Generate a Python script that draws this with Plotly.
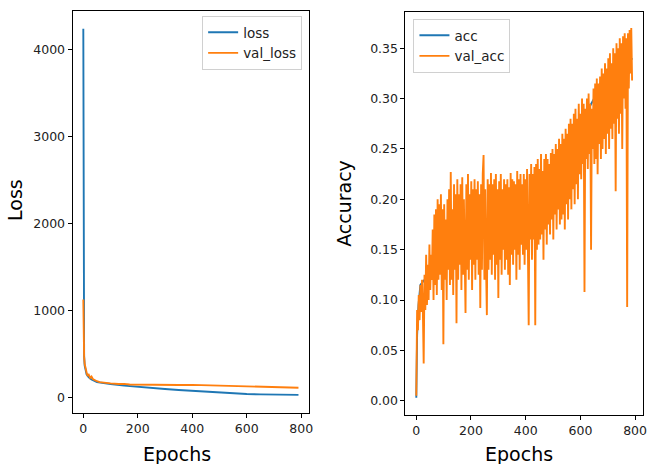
import plotly.graph_objects as go

# ---------------- data ----------------
loss_epochs = [0, 1, 2, 3, 5, 8, 12, 20, 30, 50, 80, 100, 150, 200, 250, 300, 350, 400, 450, 500, 550, 600, 650, 700, 750, 790]
loss = [4240, 1100, 640, 480, 370, 310, 270, 235, 210, 180, 165, 158, 140, 125, 112, 100, 90, 80, 70, 60, 50, 43, 39, 36, 34, 33]

val_loss_epochs = [0, 1, 2, 3, 5, 8, 12, 16, 20, 25, 30, 35, 40, 50, 60, 80, 100, 130, 150, 170, 200, 250, 300, 350, 400, 420, 440, 450, 500, 550, 600, 620, 650, 700, 750, 790]
val_loss = [1130, 700, 560, 470, 390, 330, 290, 250, 265, 230, 245, 215, 205, 190, 180, 170, 165, 158, 160, 152, 150, 148, 145, 146, 148, 146, 150, 143, 138, 132, 126, 129, 122, 118, 117, 115]

acc_epochs = [0, 3, 8, 15, 30, 60, 100, 200, 300, 380, 450, 500, 550, 600, 620, 650, 700, 750, 790]
acc = [0.003, 0.065, 0.095, 0.115, 0.12, 0.14, 0.155, 0.168, 0.175, 0.183, 0.195, 0.21, 0.235, 0.265, 0.285, 0.30, 0.315, 0.33, 0.34]

# val_acc read every 3 epochs
val_acc = [
    0.005, 0.090, 0.070, 0.105, 0.080, 0.115, 0.088, 0.120, 0.090, 0.037,
    0.125, 0.090, 0.145, 0.095, 0.135, 0.100, 0.155, 0.110, 0.145, 0.120,
    0.170, 0.100, 0.185, 0.115, 0.190, 0.105, 0.200, 0.120, 0.195, 0.125,
    0.205, 0.110, 0.190, 0.056, 0.195, 0.120, 0.180, 0.100, 0.200, 0.130,
    0.210, 0.115, 0.227, 0.120, 0.190, 0.105, 0.215, 0.130, 0.205, 0.077,
    0.220, 0.120, 0.205, 0.135, 0.215, 0.110, 0.222, 0.125, 0.200, 0.100,
    0.087, 0.215, 0.130, 0.225, 0.120, 0.205, 0.140, 0.218, 0.110, 0.210,
    0.135, 0.220, 0.120, 0.210, 0.140, 0.218, 0.125, 0.205, 0.092, 0.215,
    0.130, 0.225, 0.244, 0.120, 0.210, 0.135, 0.085, 0.220, 0.130, 0.215,
    0.140, 0.226, 0.125, 0.215, 0.145, 0.220, 0.120, 0.225, 0.135, 0.210,
    0.102, 0.218, 0.140, 0.225, 0.125, 0.210, 0.150, 0.220, 0.130, 0.215,
    0.140, 0.220, 0.125, 0.212, 0.115, 0.226, 0.145, 0.220, 0.135, 0.218,
    0.150, 0.215, 0.120, 0.228, 0.145, 0.220, 0.130, 0.225, 0.155, 0.215,
    0.145, 0.225, 0.135, 0.220, 0.150, 0.230, 0.140, 0.075, 0.225, 0.160,
    0.235, 0.140, 0.225, 0.160, 0.232, 0.075, 0.235, 0.150, 0.240, 0.155,
    0.230, 0.160, 0.245, 0.165, 0.228, 0.140, 0.240, 0.170, 0.245, 0.155,
    0.240, 0.175, 0.235, 0.165, 0.246, 0.180, 0.250, 0.160, 0.245, 0.185,
    0.255, 0.170, 0.250, 0.190, 0.260, 0.175, 0.255, 0.180, 0.265, 0.185,
    0.260, 0.170, 0.270, 0.195, 0.265, 0.180, 0.275, 0.200, 0.280, 0.190,
    0.275, 0.210, 0.285, 0.195, 0.290, 0.215, 0.280, 0.200, 0.295, 0.225,
    0.285, 0.220, 0.300, 0.235, 0.295, 0.108, 0.290, 0.240, 0.300, 0.230,
    0.305, 0.245, 0.295, 0.150, 0.290, 0.250, 0.310, 0.235, 0.315, 0.240,
    0.320, 0.225, 0.315, 0.255, 0.322, 0.240, 0.330, 0.250, 0.325, 0.260,
    0.335, 0.245, 0.330, 0.265, 0.340, 0.250, 0.345, 0.270, 0.335, 0.260,
    0.350, 0.275, 0.345, 0.208, 0.355, 0.280, 0.350, 0.265, 0.360, 0.285,
    0.355, 0.250, 0.362, 0.300, 0.365, 0.290, 0.360, 0.093, 0.365, 0.310,
    0.368, 0.325, 0.370, 0.318,
]
val_acc_epochs = [3 * i for i in range(len(val_acc))]

x_ticks = [0, 200, 400, 600, 800]
loss_ticks = [0, 1000, 2000, 3000, 4000]
acc_ticks = [0.00, 0.05, 0.10, 0.15, 0.20, 0.25, 0.30, 0.35]

BLUE = "#1f77b4"
ORANGE = "#ff7f0e"
FONT = "DejaVu Sans"
W, H = 651, 464

fig = go.Figure()
fig.add_trace(go.Scatter(x=loss_epochs, y=loss, mode="lines", name="loss",
                         line=dict(color=BLUE, width=1.9), xaxis="x", yaxis="y", legend="legend"))
fig.add_trace(go.Scatter(x=val_loss_epochs, y=val_loss, mode="lines", name="val_loss",
                         line=dict(color=ORANGE, width=1.9), xaxis="x", yaxis="y", legend="legend"))
fig.add_trace(go.Scatter(x=acc_epochs, y=acc, mode="lines", name="acc",
                         line=dict(color=BLUE, width=1.9), xaxis="x2", yaxis="y2", legend="legend2"))
fig.add_trace(go.Scatter(x=val_acc_epochs, y=val_acc, mode="lines", name="val_acc",
                         line=dict(color=ORANGE, width=1.9), xaxis="x2", yaxis="y2", legend="legend2"))

axis_common = dict(showgrid=False, zeroline=False, showline=True, linecolor="black", linewidth=1,
                   mirror=True, ticks="outside", ticklen=4, tickcolor="black",
                   tickfont=dict(family=FONT, size=12.5, color="#222"))

fig.update_layout(
    width=W, height=H,
    margin=dict(l=0, r=0, t=0, b=0),
    paper_bgcolor="white", plot_bgcolor="white",
    font=dict(family=FONT, size=12.5, color="#222"),
    xaxis=dict(domain=[73 / W, 311 / W], range=[-39.5, 829], tickvals=x_ticks,
               anchor="y", **axis_common),
    yaxis=dict(domain=[1 - 413 / H, 1 - 11 / H], range=[-175, 4445], tickvals=loss_ticks,
               anchor="x", **axis_common),
    xaxis2=dict(domain=[408 / W, 647 / W], range=[-39.5, 829], tickvals=x_ticks,
                anchor="y2", **axis_common),
    yaxis2=dict(domain=[1 - 415 / H, 1 - 12 / H], range=[-0.0142, 0.386], tickvals=acc_ticks,
                tickformat=".2f", anchor="x2", **axis_common),
    legend=dict(x=304 / W, y=1 - 16 / H, xanchor="right", yanchor="top",
                bgcolor="rgba(255,255,255,0.8)", bordercolor="#d0d0d0", borderwidth=1,
                font=dict(family=FONT, size=13.5, color="#222"), itemwidth=30, tracegroupgap=0),
    legend2=dict(x=416 / W, y=1 - 19 / H, xanchor="left", yanchor="top",
                 bgcolor="rgba(255,255,255,0.8)", bordercolor="#d0d0d0", borderwidth=1,
                 font=dict(family=FONT, size=13.5, color="#222"), itemwidth=30, tracegroupgap=0),
    annotations=[
        dict(text="Loss", x=15 / W, y=1 - 200 / H, xref="paper", yref="paper", textangle=-90,
             showarrow=False, font=dict(family=FONT, size=19, color="black"), xanchor="center", yanchor="middle"),
        dict(text="Accuracy", x=346 / W, y=1 - 203 / H, xref="paper", yref="paper", textangle=-90,
             showarrow=False, font=dict(family=FONT, size=19, color="black"), xanchor="center", yanchor="middle"),
        dict(text="Epochs", x=178 / W, y=1 - 454 / H, xref="paper", yref="paper",
             showarrow=False, font=dict(family=FONT, size=19, color="black"), xanchor="center", yanchor="middle"),
        dict(text="Epochs", x=522 / W, y=1 - 454 / H, xref="paper", yref="paper",
             showarrow=False, font=dict(family=FONT, size=19, color="black"), xanchor="center", yanchor="middle"),
    ],
)

fig.write_html("out.html", config={"displayModeBar": False},
               post_script="document.body.style.margin='0';document.body.style.overflow='hidden';")
